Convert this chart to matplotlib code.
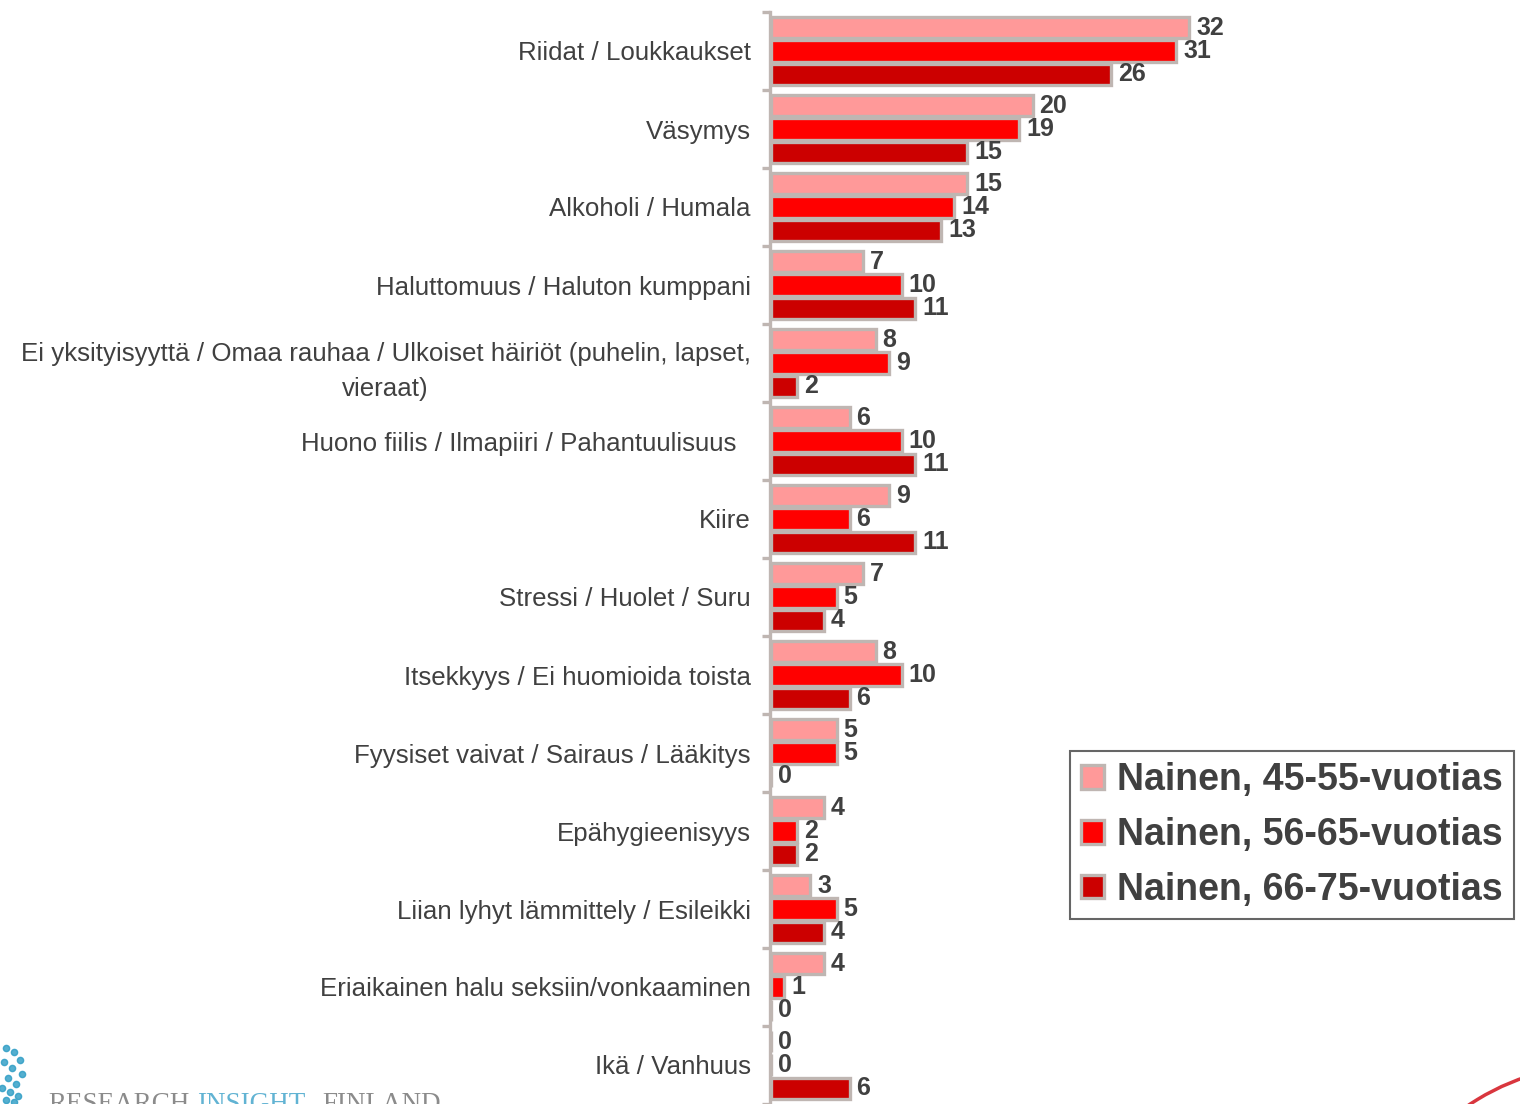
import numpy as np
import matplotlib
matplotlib.use("Agg")
import matplotlib.pyplot as plt
from matplotlib.patches import Arc

plt.rcParams['font.family'] = ['Liberation Sans', 'DejaVu Sans']

categories = [
    "Riidat / Loukkaukset",
    "Väsymys",
    "Alkoholi / Humala",
    "Haluttomuus / Haluton kumppani",
    "Ei yksityisyyttä / Omaa rauhaa / Ulkoiset häiriöt (puhelin, lapset,\nvieraat)",
    "Huono fiilis / Ilmapiiri / Pahantuulisuus  ",
    "Kiire",
    "Stressi / Huolet / Suru",
    "Itsekkyys / Ei huomioida toista",
    "Fyysiset vaivat / Sairaus / Lääkitys",
    "Epähygieenisyys",
    "Liian lyhyt lämmittely / Esileikki",
    "Eriaikainen halu seksiin/vonkaaminen",
    "Ikä / Vanhuus",
]
series_names = ["Nainen, 45-55-vuotias", "Nainen, 56-65-vuotias", "Nainen, 66-75-vuotias"]
nainen_45_55 = [32, 20, 15, 7, 8, 6, 9, 7, 8, 5, 4, 3, 4, 0]
nainen_56_65 = [31, 19, 14, 10, 9, 10, 6, 5, 10, 5, 2, 5, 1, 0]
nainen_66_75 = [26, 15, 13, 11, 2, 11, 11, 4, 6, 0, 2, 4, 0, 6]

colors = ["#FF9999", "#FF0000", "#CC0000"]
edge_col = "#BFB6B2"
text_col = "#404040"

W, H = 1520, 1104
fig = plt.figure(figsize=(W / 100, H / 100), dpi=100)

x0, top = 770, 12
px_per_unit = 13.06
xmax = 40
ax = fig.add_axes([x0 / W, 0, xmax * px_per_unit / W, (H - top) / H])

n = len(categories)
ax.set_xlim(0, xmax)
ax.set_ylim(n, 0)

bar_h = 0.3
series = [nainen_45_55, nainen_56_65, nainen_66_75]
base = np.arange(n)
for k, (vals, col, name) in enumerate(zip(series, colors, series_names)):
    ypos = base + 0.05 + bar_h * (k + 0.5)
    ax.barh(ypos, vals, height=bar_h * 0.93, color=col, edgecolor=edge_col,
            linewidth=2.4, label=name, left=0.1)
    for y, v in zip(ypos, vals):
        ax.annotate(f"{v}", xy=(v + 0.1, y), xytext=(5, 0), textcoords="offset points",
                    ha="left", va="center", fontsize=18, fontweight="bold",
                    color=text_col)

for s in ["top", "right", "bottom"]:
    ax.spines[s].set_visible(False)
ax.spines["left"].set_color(edge_col)
ax.spines["left"].set_linewidth(2.4)
ax.set_xticks([])
ax.set_yticks(np.arange(n + 1))
ax.set_yticklabels([])
ax.tick_params(axis="y", which="major", length=6, width=2.4, color=edge_col)
ax.set_yticks(base + 0.5, minor=True)
ax.set_yticklabels(categories, minor=True, fontsize=18.6, color=text_col,
                   multialignment="center", linespacing=1.6)
ax.tick_params(axis="y", which="minor", length=0, pad=14)

leg = fig.legend(loc="upper left", bbox_to_anchor=(1070 / W, 1 - 751 / H),
                 frameon=True, fancybox=False, edgecolor="#404040",
                 prop={"size": 27, "weight": "bold"}, handlelength=0.6,
                 handleheight=0.6, handletextpad=0.35, borderpad=0.3,
                 labelspacing=0.5, borderaxespad=0)
leg.get_frame().set_linewidth(1.5)
for t in leg.get_texts():
    t.set_color(text_col)

# company logo, bottom left
logo_kw = dict(fontsize=19.5, family="Liberation Serif", ha="left", va="baseline",
               alpha=0.8)
fig.text(48 / W, -7 / H, "RESEARCH", color="#6E6E6E", **logo_kw)
fig.text(197 / W, -7 / H, "INSIGHT", color="#3AA0C8", **logo_kw)
fig.text(322 / W, -7 / H, "FINLAND", color="#6E6E6E", **logo_kw)
dots_x = [6, 14, 20, 4, 12, 22, 8, 16, 2, 10, 18, 6, 14]
dots_y = [1048, 1052, 1060, 1062, 1068, 1074, 1078, 1084, 1088, 1092, 1096, 1100, 1102]
fig.add_artist(plt.Line2D([x / W for x in dots_x], [1 - y / H for y in dots_y],
                          transform=fig.transFigure, linestyle="none", marker="o",
                          markersize=4.5, color="#2A9BC4", alpha=0.8))

# red ring, bottom right
R = 235
arc = Arc((1600 / W, 1 - 1300 / H), 2 * R / W, 2 * R / H, theta1=100, theta2=130,
          transform=fig.transFigure, color="#D9363E", linewidth=2.5)
fig.add_artist(arc)

fig.savefig("out.png", dpi=100, facecolor="white")
